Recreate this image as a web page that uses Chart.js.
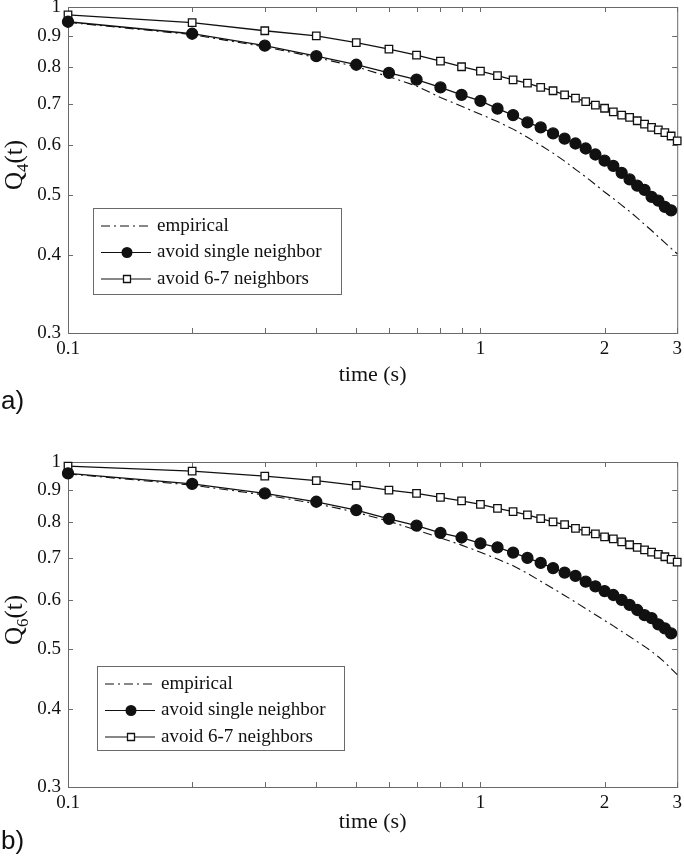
<!DOCTYPE html>
<html>
<head>
<meta charset="utf-8">
<script src="https://cdn.jsdelivr.net/npm/chart.js@4/dist/chart.umd.min.js"></script>
<style>
  body { margin: 0; background: #fff; }
  canvas { display: block; }
</style>
</head>
<body>
<canvas id="chartA" width="684" height="431"></canvas>
<canvas id="chartB" width="684" height="431"></canvas>
<script>
// time points (s)
const times = [0.1, 0.2, 0.3, 0.4, 0.5, 0.6, 0.7, 0.8, 0.9, 1.0,
  1.1, 1.2, 1.3, 1.4, 1.5, 1.6, 1.7, 1.8, 1.9, 2.0,
  2.1, 2.2, 2.3, 2.4, 2.5, 2.6, 2.7, 2.8, 2.9, 3.0];

// a) Q4(t)
const empiricalA = [0.945, 0.903, 0.863, 0.830, 0.802, 0.773, 0.747, 0.716, 0.693, 0.673,
  0.655, 0.637, 0.618, 0.600, 0.583, 0.566, 0.549, 0.534, 0.519, 0.505,
  0.493, 0.481, 0.470, 0.459, 0.448, 0.438, 0.428, 0.419, 0.410, 0.402];
const singleA = [0.947, 0.906, 0.867, 0.834, 0.808, 0.784, 0.765, 0.743, 0.723, 0.707,
  0.687, 0.671, 0.653, 0.641, 0.627, 0.615, 0.604, 0.593, 0.580, 0.567,
  0.556, 0.542, 0.529, 0.517, 0.509, 0.496, 0.489, 0.478, 0.472];
const sixSevenA = [0.971, 0.944, 0.916, 0.899, 0.877, 0.856, 0.837, 0.819, 0.802, 0.789,
  0.776, 0.764, 0.755, 0.743, 0.734, 0.723, 0.714, 0.705, 0.696, 0.688,
  0.679, 0.671, 0.665, 0.657, 0.649, 0.641, 0.635, 0.629, 0.621, 0.610];

// b) Q6(t)
const empiricalB = [0.957, 0.918, 0.885, 0.857, 0.830, 0.803, 0.777, 0.755, 0.735, 0.716,
  0.698, 0.681, 0.662, 0.643, 0.626, 0.610, 0.595, 0.581, 0.568, 0.556,
  0.545, 0.534, 0.524, 0.514, 0.505, 0.496, 0.486, 0.476, 0.465, 0.455];
const singleB = [0.959, 0.922, 0.890, 0.863, 0.837, 0.810, 0.790, 0.769, 0.756, 0.740,
  0.729, 0.715, 0.701, 0.688, 0.675, 0.664, 0.656, 0.642, 0.631, 0.620,
  0.611, 0.600, 0.589, 0.578, 0.567, 0.561, 0.548, 0.540, 0.530];
const sixSevenB = [0.985, 0.967, 0.949, 0.933, 0.917, 0.901, 0.890, 0.877, 0.866, 0.855,
  0.842, 0.832, 0.822, 0.811, 0.801, 0.793, 0.782, 0.774, 0.766, 0.758,
  0.752, 0.744, 0.736, 0.729, 0.722, 0.716, 0.710, 0.704, 0.697, 0.690];

const seriesNames = ["empirical", "avoid single neighbor", "avoid 6-7 neighbors"];
const xTicks = [0.1, 0.2, 0.3, 0.4, 0.5, 0.6, 0.7, 0.8, 0.9, 1, 2, 3];
const xLabeled = [0.1, 1, 2, 3];
const yTicks = [0.3, 0.4, 0.5, 0.6, 0.7, 0.8, 0.9, 1];

const serif = "'Liberation Serif', 'Times New Roman', serif";
const textColor = "#111";
const lineColor = "#111";
const frameColor = "#6a6a6a";

const toPoints = (vals) => vals.map((y, i) => ({ x: times[i], y }));

const makeDatasets = (emp, single, six) => [
  {
    label: seriesNames[0],
    data: toPoints(emp),
    borderColor: lineColor,
    borderWidth: 1.1,
    borderDash: [9, 4, 2, 4],
    pointRadius: 0,
    clip: false,
  },
  {
    label: seriesNames[1],
    data: toPoints(single),
    borderColor: lineColor,
    borderWidth: 1.3,
    pointStyle: "circle",
    pointRadius: 5.5,
    pointBackgroundColor: lineColor,
    pointBorderColor: lineColor,
    clip: false,
  },
  {
    label: seriesNames[2],
    data: toPoints(six),
    borderColor: lineColor,
    borderWidth: 1.3,
    pointStyle: "rect",
    pointRadius: 5.3,
    pointBackgroundColor: "#fff",
    pointBorderColor: lineColor,
    pointBorderWidth: 1.3,
    clip: false,
  },
];

const drawMarker = (ctx, style, x, y) => {
  ctx.beginPath();
  if (style === "circle") {
    ctx.fillStyle = lineColor;
    ctx.arc(x, y, 5.5, 0, Math.PI * 2);
    ctx.fill();
  } else if (style === "rect") {
    ctx.fillStyle = "#fff";
    ctx.strokeStyle = lineColor;
    ctx.lineWidth = 1.3;
    ctx.rect(x - 3.5, y - 3.5, 7, 7);
    ctx.fill();
    ctx.stroke();
  }
};

const drawLegend = (chart, box) => {
  const ctx = chart.ctx;
  ctx.save();
  ctx.fillStyle = "#fff";
  ctx.fillRect(box.x, box.y, box.w, box.h);
  ctx.strokeStyle = frameColor;
  ctx.lineWidth = 1;
  ctx.strokeRect(box.x + 0.5, box.y + 0.5, box.w, box.h);
  ctx.font = "19px " + serif;
  ctx.textBaseline = "middle";
  chart.data.datasets.forEach((ds, i) => {
    const y = box.y + 18 + i * 26.5;
    ctx.strokeStyle = lineColor;
    ctx.lineWidth = 1.2;
    ctx.setLineDash(ds.borderDash || []);
    ctx.beginPath();
    ctx.moveTo(box.x + 8, y);
    ctx.lineTo(box.x + 58, y);
    ctx.stroke();
    ctx.setLineDash([]);
    if (ds.pointRadius) drawMarker(ctx, ds.pointStyle, box.x + 34, y);
    ctx.fillStyle = textColor;
    ctx.fillText(ds.label, box.x + 64, y);
  });
  ctx.restore();
};

const drawYTitle = (ctx, x, y, sub) => {
  ctx.save();
  ctx.translate(x, y);
  ctx.rotate(-Math.PI / 2);
  ctx.fillStyle = textColor;
  ctx.textBaseline = "alphabetic";
  const big = "25px " + serif;
  const small = "17px " + serif;
  ctx.font = big;
  const wQ = ctx.measureText("Q").width;
  const wT = ctx.measureText("(t)").width;
  ctx.font = small;
  const wS = ctx.measureText(sub).width;
  let cx = -(wQ + wS + wT) / 2;
  ctx.font = big;
  ctx.fillText("Q", cx, 0);
  cx += wQ;
  ctx.font = small;
  ctx.fillText(sub, cx, 6);
  cx += wS;
  ctx.font = big;
  ctx.fillText("(t)", cx, 0);
  ctx.restore();
};

const framePlugin = {
  id: "frame",
  beforeDatasetsDraw(chart) {
    const { ctx, chartArea: a, scales } = chart;
    ctx.save();
    ctx.strokeStyle = frameColor;
    ctx.lineWidth = 1;
    ctx.strokeRect(a.left + 0.5, a.top + 0.5, a.right - a.left, a.bottom - a.top);
    ctx.beginPath();
    xTicks.forEach((v) => {
      const px = Math.round(scales.x.getPixelForValue(v)) + 0.5;
      ctx.moveTo(px, a.bottom);
      ctx.lineTo(px, a.bottom - 5);
      ctx.moveTo(px, a.top);
      ctx.lineTo(px, a.top + 5);
    });
    yTicks.forEach((v) => {
      const py = Math.round(scales.y.getPixelForValue(v)) + 0.5;
      ctx.moveTo(a.left, py);
      ctx.lineTo(a.left + 5, py);
      ctx.moveTo(a.right, py);
      ctx.lineTo(a.right - 5, py);
    });
    ctx.stroke();
    ctx.restore();
  },
  afterDraw(chart, args, opts) {
    const ctx = chart.ctx;
    drawLegend(chart, opts.legendBox);
    drawYTitle(ctx, 22, opts.titleY, opts.sub);
    ctx.save();
    ctx.fillStyle = textColor;
    ctx.font = "26px 'Liberation Sans', Arial, sans-serif";
    ctx.textBaseline = "middle";
    ctx.fillText(opts.panel, 1, opts.panelY);
    ctx.restore();
  },
};

function createChartConfig(datasets, p) {
  return {
    type: "line",
    data: { datasets },
    plugins: [framePlugin],
    options: {
      responsive: false,
      animation: false,
      devicePixelRatio: 1,
      layout: { padding: { top: p.top, right: 5, left: 0, bottom: 0 } },
      elements: { line: { tension: 0 } },
      scales: {
        x: {
          type: "logarithmic",
          min: 0.1,
          max: 3,
          afterBuildTicks: (s) => { s.ticks = xTicks.map((v) => ({ value: v })); },
          afterFit: (s) => { s.height = p.xHeight; s.paddingLeft = 0; s.paddingRight = 0; },
          grid: { display: false, drawTicks: false },
          border: { display: false },
          ticks: {
            autoSkip: false,
            maxRotation: 0,
            padding: 5,
            color: textColor,
            font: { family: serif, size: 19 },
            callback: (v) => (xLabeled.includes(v) ? String(v) : ""),
          },
          title: {
            display: true,
            text: "time (s)",
            color: textColor,
            font: { family: serif, size: 22 },
            padding: { top: 0, bottom: p.titlePad },
          },
        },
        y: {
          type: "logarithmic",
          min: 0.3,
          max: 1,
          afterBuildTicks: (s) => { s.ticks = yTicks.map((v) => ({ value: v })); },
          afterFit: (s) => { s.width = 68; s.paddingTop = 0; s.paddingBottom = 0; },
          grid: { display: false, drawTicks: false },
          border: { display: false },
          ticks: {
            autoSkip: false,
            padding: 7,
            color: textColor,
            font: { family: serif, size: 19 },
            callback: (v) => String(v),
          },
        },
      },
      plugins: {
        legend: { display: false },
        tooltip: { enabled: false },
        frame: {
          legendBox: p.legendBox,
          sub: p.sub,
          titleY: p.titleY,
          panel: p.panel,
          panelY: p.panelY,
        },
      },
    },
  };
}

new Chart(document.getElementById("chartA"), createChartConfig(
  makeDatasets(empiricalA, singleA, sixSevenA),
  { top: 7, xHeight: 98, titlePad: 43, sub: "4", titleY: 165, panel: "a)", panelY: 402,
    legendBox: { x: 93, y: 208, w: 248, h: 86 } }
));

new Chart(document.getElementById("chartB"), createChartConfig(
  makeDatasets(empiricalB, singleB, sixSevenB),
  { top: 31, xHeight: 75, titlePad: 27, sub: "6", titleY: 189, panel: "b)", panelY: 411,
    legendBox: { x: 97, y: 235, w: 247, h: 84 } }
));
</script>
</body>
</html>
